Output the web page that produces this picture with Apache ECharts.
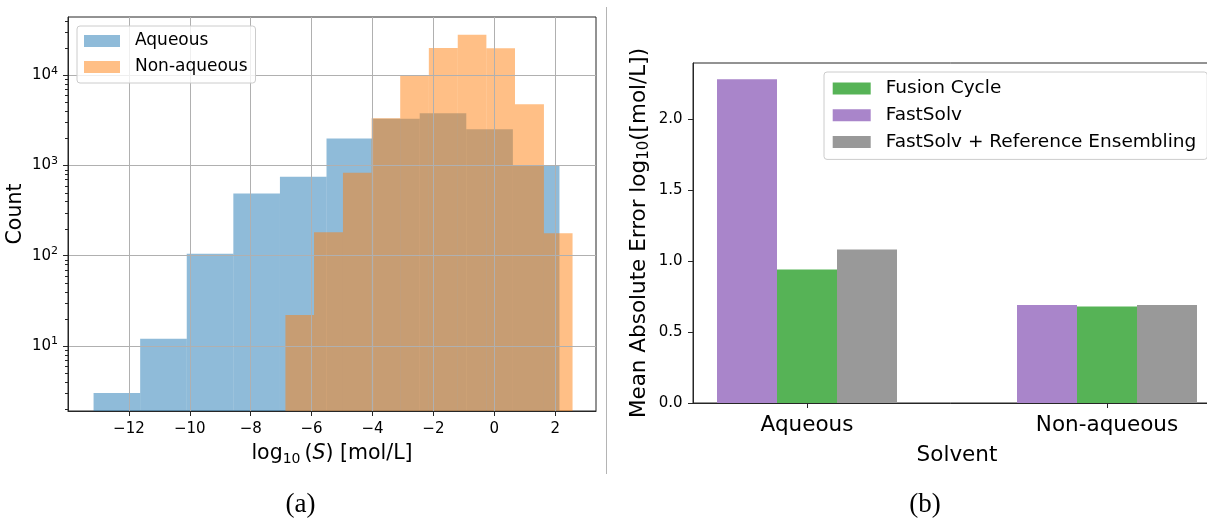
<!DOCTYPE html>
<html>
<head>
<meta charset="utf-8">
<script src="https://cdn.jsdelivr.net/npm/echarts@6/dist/echarts.min.js"></script>
<style>
html,body{margin:0;padding:0;background:#fff;}
#c{width:1207px;height:523px;}
</style>
</head>
<body>
<div id="c"></div>
<script>
// ---------------- data ----------------
// (a) histogram of log10(S): bin edges and counts
const aqueousEdges = [-13.16, -11.63, -10.10, -8.57, -7.04, -5.51, -3.98, -2.45, -0.92, 0.61, 2.14];
const aqueousCounts = [3, 12, 105, 490, 750, 1990, 3300, 3800, 2530, 1000];
const nonAqueousEdges = [-6.86, -5.92, -4.97, -4.03, -3.09, -2.15, -1.20, -0.26, 0.68, 1.63, 2.57];
const nonAqueousCounts = [22, 182, 830, 3350, 10000, 20100, 28200, 19900, 4780, 178];
const histXTicks = [-12, -10, -8, -6, -4, -2, 0, 2];
const histYTicks = [10, 100, 1000, 10000];
const histYMinorTicks = [2, 3, 4, 5, 6, 7, 8, 9, 20, 30, 40, 50, 60, 70, 80, 90,
  200, 300, 400, 500, 600, 700, 800, 900, 2000, 3000, 4000, 5000, 6000, 7000, 8000, 9000,
  20000, 30000, 40000];

// (b) mean absolute error by solvent
const solventCategories = ['Aqueous', 'Non-aqueous'];
const fusionCycle = [0.94, 0.68];
const fastSolv = [2.28, 0.69];
const fastSolvRef = [1.08, 0.69];
const maeTicks = [0, 0.5, 1.0, 1.5, 2.0];

// ---------------- layout / style ----------------
const FONT = 'DejaVu Sans';
const HX_MIN = -14, HX_MAX = 3.34;
const HY_MIN = 1.901, HY_MAX = 44260;
const BX_MIN = -0.38, BX_MAX = 1.38;
const BY_MIN = 0, BY_MAX = 2.394;
const BAR_W = 0.2;
const AXIS_COLOR = '#262626';

const chart = echarts.init(document.getElementById('c'), null, {renderer: 'canvas'});

function histRender(params, api) {
  const x0 = api.value(0), x1 = api.value(1), c = api.value(2);
  const p0 = api.coord([x0, c]);
  const p1 = api.coord([x1, HY_MIN]);
  return {
    type: 'rect',
    shape: {x: p0[0], y: p0[1], width: p1[0] - p0[0], height: p1[1] - p0[1]},
    style: {fill: api.visual('color')}
  };
}
function minorTickRender(params, api) {
  const p = api.coord([api.value(0), api.value(1)]);
  const y = Math.round(p[1]) + 0.5;
  return {
    type: 'line',
    shape: {x1: p[0] - 3, y1: y, x2: p[0], y2: y},
    style: {stroke: AXIS_COLOR, lineWidth: 1}
  };
}
function barRender(offset) {
  return function (params, api) {
    const x = api.value(0) + offset;
    const v = api.value(1);
    const p0 = api.coord([x - BAR_W / 2, v]);
    const p1 = api.coord([x + BAR_W / 2, BY_MIN]);
    return {
      type: 'rect',
      shape: {x: p0[0], y: p0[1], width: p1[0] - p0[0], height: p1[1] - p0[1]},
      style: {fill: api.visual('color')}
    };
  };
}
const toHist = (edges, counts) => counts.map((c, i) => [edges[i], edges[i + 1], c]);
const toBars = vals => vals.map((v, i) => [i, v]);
const minus = v => (v < 0 ? '\u2212' + Math.abs(v) : String(v));

const option = {
  backgroundColor: '#ffffff',
  animation: false,
  textStyle: {fontFamily: FONT},
  grid: [
    {left: 68, top: 17, right: 611, bottom: 112, show: true, borderColor: AXIS_COLOR, borderWidth: 1,
     containLabel: false, outerBoundsMode: 'none'},
    {left: 693, top: 63, right: -14, bottom: 120, show: true, borderColor: AXIS_COLOR, borderWidth: 1,
     containLabel: false, outerBoundsMode: 'none'}
  ],
  xAxis: [
    {
      gridIndex: 0, type: 'value', min: HX_MIN, max: HX_MAX, interval: 2, z: 3,
      axisLine: {show: true, onZero: false, lineStyle: {color: AXIS_COLOR, width: 1}},
      axisTick: {show: true, length: 5, customValues: histXTicks, lineStyle: {color: AXIS_COLOR}},
      axisLabel: {show: true, customValues: histXTicks, margin: 10, fontSize: 15, color: '#000', fontFamily: FONT,
        lineHeight: 16, showMinLabel: true, showMaxLabel: true,
        formatter: v => (histXTicks.indexOf(v) >= 0 ? minus(v) : '')},
      splitLine: {show: true, lineStyle: {color: '#b0b0b0', width: 1}},
      name: 'log{sub|10}\u2009({it|S}) [mol/L]', nameLocation: 'middle', nameGap: 30,
      nameTextStyle: {fontSize: 20.5, color: '#000', fontFamily: FONT, lineHeight: 24,
        rich: {
          sub: {fontSize: 14, verticalAlign: 'bottom', color: '#000', fontFamily: FONT, lineHeight: 16},
          it: {fontSize: 20.5, fontStyle: 'italic', color: '#000', fontFamily: FONT, lineHeight: 24}
        }}
    },
    {
      gridIndex: 1, type: 'value', min: BX_MIN, max: BX_MAX, z: 3,
      axisLine: {show: true, onZero: false, lineStyle: {color: AXIS_COLOR, width: 1}},
      axisTick: {show: true, length: 5, customValues: [0, 1], lineStyle: {color: AXIS_COLOR}},
      axisLabel: {show: true, customValues: [0, 1], margin: 9, fontSize: 21.5, color: '#000', fontFamily: FONT,
        lineHeight: 26, formatter: v => (solventCategories[v] !== undefined && Number.isInteger(v) ? solventCategories[v] : '')},
      splitLine: {show: false},
      name: 'Solvent', nameLocation: 'middle', nameGap: 37,
      nameTextStyle: {fontSize: 21.5, color: '#000', fontFamily: FONT, lineHeight: 26}
    }
  ],
  yAxis: [
    {
      gridIndex: 0, type: 'log', logBase: 10, min: HY_MIN, max: HY_MAX, z: 3,
      axisLine: {show: true, onZero: false, lineStyle: {color: AXIS_COLOR, width: 1}},
      axisTick: {show: true, length: 5, customValues: histYTicks, lineStyle: {color: AXIS_COLOR}},
      axisLabel: {show: true, customValues: histYTicks, margin: 10, fontSize: 15, color: '#000', fontFamily: FONT,
        lineHeight: 20,
        formatter: function (v) {
          const l = Math.log10(v), e = Math.round(l);
          if (Math.abs(l - e) > 1e-6) return '';
          return '10{sup|' + e + '}';
        },
        rich: {sup: {fontSize: 11, verticalAlign: 'top', color: '#000', fontFamily: FONT, lineHeight: 12}}
      },
      splitLine: {show: true, lineStyle: {color: '#b0b0b0', width: 1}},
      name: 'Count', nameLocation: 'middle', nameGap: 39, nameRotate: 90,
      nameTextStyle: {fontSize: 20.5, color: '#000', fontFamily: FONT, lineHeight: 24}
    },
    {
      gridIndex: 1, type: 'value', min: BY_MIN, max: BY_MAX, z: 3,
      axisLine: {show: true, onZero: false, lineStyle: {color: AXIS_COLOR, width: 1}},
      axisTick: {show: true, length: 5, customValues: maeTicks, lineStyle: {color: AXIS_COLOR}},
      axisLabel: {show: true, customValues: maeTicks, margin: 10.5, fontSize: 15, color: '#000', fontFamily: FONT,
        formatter: v => v.toFixed(1)},
      splitLine: {show: false},
      name: 'Mean Absolute Error log{sub|10}([mol/L])', nameLocation: 'middle', nameGap: 41, nameRotate: 90,
      nameTextStyle: {fontSize: 21.5, color: '#000', fontFamily: FONT, lineHeight: 26,
        rich: {sub: {fontSize: 15, verticalAlign: 'bottom', color: '#000', fontFamily: FONT, lineHeight: 17}}}
    }
  ],
  legend: [
    {
      orient: 'vertical', left: 77, top: 26,
      data: ['Aqueous', 'Non-aqueous'],
      icon: 'rect', itemWidth: 36, itemHeight: 12, itemGap: 6,
      padding: [5, 8, 6, 7],
      backgroundColor: 'rgba(255,255,255,0.8)', borderColor: '#cccccc', borderWidth: 1, borderRadius: 3,
      itemStyle: {borderWidth: 0},
      textStyle: {fontFamily: FONT, fontSize: 17, color: '#000', lineHeight: 20, padding: [0, 0, 0, 10]},
      selectedMode: false
    },
    {
      orient: 'vertical', left: 824, top: 72,
      data: ['Fusion Cycle', 'FastSolv', 'FastSolv + Reference Ensembling'],
      icon: 'rect', itemWidth: 38, itemHeight: 12, itemGap: 6.7,
      padding: [6.5, 11, 7.5, 8.7],
      backgroundColor: 'rgba(255,255,255,0.8)', borderColor: '#cccccc', borderWidth: 1, borderRadius: 3,
      itemStyle: {borderWidth: 0},
      textStyle: {fontFamily: FONT, fontSize: 18.5, color: '#000', lineHeight: 20, padding: [0, 0, 0, 10]},
      selectedMode: false
    }
  ],
  series: [
    {
      name: 'Aqueous', type: 'custom', xAxisIndex: 0, yAxisIndex: 0, z: 2, clip: true,
      itemStyle: {color: 'rgba(31,119,180,0.5)'},
      encode: {x: [0, 1], y: 2},
      data: toHist(aqueousEdges, aqueousCounts),
      renderItem: histRender, silent: true
    },
    {
      name: 'Non-aqueous', type: 'custom', xAxisIndex: 0, yAxisIndex: 0, z: 2, clip: true,
      itemStyle: {color: 'rgba(255,127,14,0.5)'},
      encode: {x: [0, 1], y: 2},
      data: toHist(nonAqueousEdges, nonAqueousCounts),
      renderItem: histRender, silent: true
    },
    {
      name: 'minorTicks', type: 'custom', xAxisIndex: 0, yAxisIndex: 0, z: 4, clip: false,
      itemStyle: {color: AXIS_COLOR},
      encode: {x: 0, y: 1},
      data: histYMinorTicks.map(v => [HX_MIN, v]),
      renderItem: minorTickRender, silent: true
    },
    {
      name: 'FastSolv', type: 'custom', xAxisIndex: 1, yAxisIndex: 1, z: 2,
      itemStyle: {color: '#a985ca'},
      encode: {x: 0, y: 1},
      data: toBars(fastSolv),
      renderItem: barRender(-BAR_W), silent: true
    },
    {
      name: 'Fusion Cycle', type: 'custom', xAxisIndex: 1, yAxisIndex: 1, z: 2,
      itemStyle: {color: '#56b356'},
      encode: {x: 0, y: 1},
      data: toBars(fusionCycle),
      renderItem: barRender(0), silent: true
    },
    {
      name: 'FastSolv + Reference Ensembling', type: 'custom', xAxisIndex: 1, yAxisIndex: 1, z: 2,
      itemStyle: {color: '#999999'},
      encode: {x: 0, y: 1},
      data: toBars(fastSolvRef),
      renderItem: barRender(BAR_W), silent: true
    }
  ],
  graphic: [
    {type: 'line', shape: {x1: 606.5, y1: 7, x2: 606.5, y2: 474}, style: {stroke: '#b4b4b4', lineWidth: 1}, silent: true},
    {type: 'text', x: 300.5, y: 505, style: {text: '(a)', fontFamily: 'Liberation Serif', fontSize: 27, fill: '#000',
      textAlign: 'center', textVerticalAlign: 'middle'}, silent: true},
    {type: 'text', x: 925, y: 505, style: {text: '(b)', fontFamily: 'Liberation Serif', fontSize: 27, fill: '#000',
      textAlign: 'center', textVerticalAlign: 'middle'}, silent: true}
  ]
};
chart.setOption(option);
</script>
</body>
</html>
